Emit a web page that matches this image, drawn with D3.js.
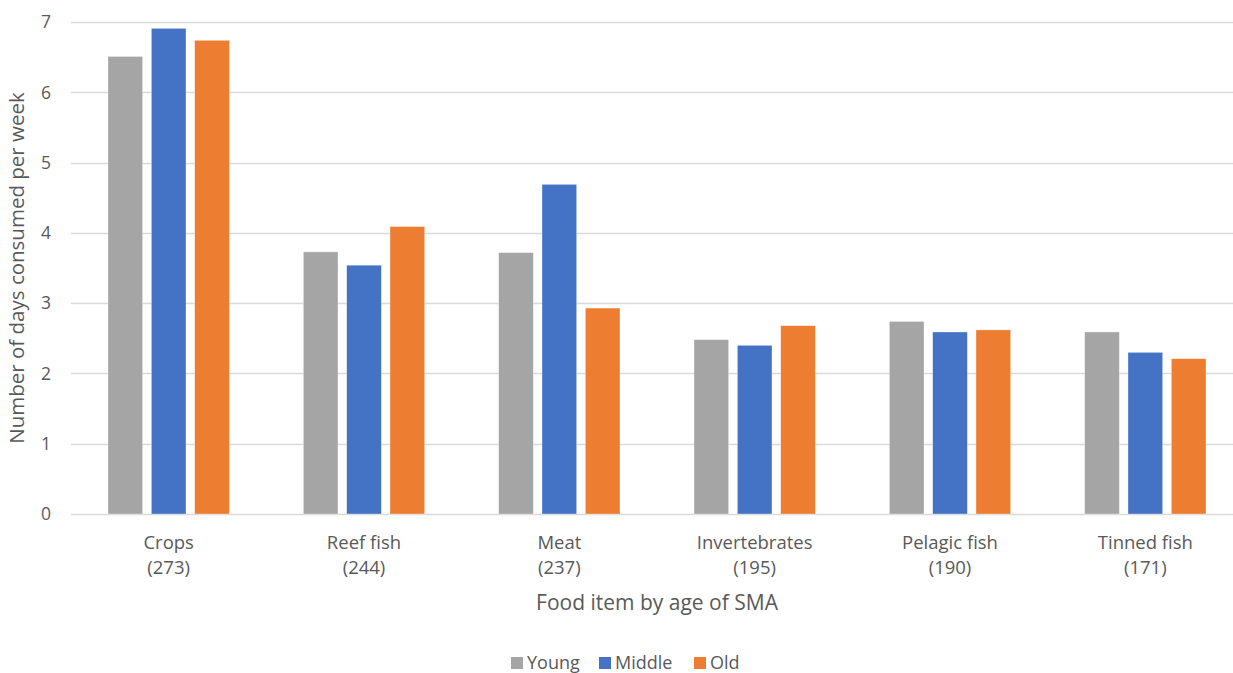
<!DOCTYPE html>
<html>
<head>
<meta charset="utf-8">
<script src="https://cdn.jsdelivr.net/npm/d3@7"></script>
<style>
  html, body { margin: 0; padding: 0; background: #fff; }
  svg text { font-family: "Open Sans", Lato, sans-serif; fill: #595959; }
</style>
</head>
<body>
<svg id="chart" width="1233" height="673"></svg>
<script>
// Food items with number of respondents
const categories = ["Crops", "Reef fish", "Meat", "Invertebrates", "Pelagic fish", "Tinned fish"];
const counts = [273, 244, 237, 195, 190, 171];
const seriesNames = ["Young", "Middle", "Old"];
const young  = [6.51, 3.73, 3.72, 2.48, 2.74, 2.59];
const middle = [6.91, 3.54, 4.69, 2.40, 2.59, 2.30];
const old    = [6.74, 4.09, 2.93, 2.68, 2.62, 2.21];
const yTicks = [0, 1, 2, 3, 4, 5, 6, 7];
const colors = ["#a5a5a5", "#4472c4", "#ed7d31"];

const seriesValues = [young, middle, old];
const rows = categories.map((c, i) => ({
  cat: c, n: counts[i],
  vals: seriesNames.map((s, j) => ({ key: s, value: seriesValues[j][i] }))
}));

const svg = d3.select("#chart");
const plotL = 71, plotR = 1243, plotT = 22, plotB = 514;

const x0 = d3.scaleBand().domain(categories).range([plotL, plotR]).paddingInner(0).paddingOuter(0);
const x1 = d3.scaleBand().domain(seriesNames).range([37, x0.bandwidth() - 37]).paddingInner(0.2).paddingOuter(0);
const y = d3.scaleLinear().domain([0, 7]).range([plotB, plotT]);

// gridlines
svg.append("g").selectAll("line").data(yTicks).join("line")
  .attr("x1", plotL).attr("x2", plotR)
  .attr("y1", d => Math.round(y(d)) + 0.5).attr("y2", d => Math.round(y(d)) + 0.5)
  .attr("stroke", "#d9d9d9").attr("stroke-width", 1.3);

// y tick labels
svg.append("g").selectAll("text").data(yTicks).join("text")
  .attr("x", 51).attr("y", d => y(d)).attr("dy", "0.36em")
  .attr("text-anchor", "end").attr("font-size", 17.5).text(d => d);

// bars
const groups = svg.append("g").selectAll("g").data(rows).join("g")
  .attr("transform", d => `translate(${x0(d.cat)},0)`);
groups.selectAll("rect").data(d => d.vals).join("rect")
  .attr("x", d => x1(d.key)).attr("width", x1.bandwidth())
  .attr("y", d => y(d.value)).attr("height", d => y(0) - y(d.value))
  .attr("fill", (d, i) => colors[i])
  .attr("stroke", "#fff").attr("stroke-opacity", 0.5).attr("stroke-width", 0.7);

// category labels
const lab = svg.append("g").selectAll("text").data(rows).join("text")
  .attr("text-anchor", "middle").attr("font-size", 18.5)
  .attr("transform", d => `translate(${x0(d.cat) + x0.bandwidth() / 2},0)`);
lab.append("tspan").attr("x", 0).attr("y", 549).text(d => d.cat);
lab.append("tspan").attr("x", 0).attr("y", 574).text(d => `(${d.n})`);

// axis titles
svg.append("text").attr("x", 657).attr("y", 610).attr("text-anchor", "middle")
  .attr("font-size", 21).text("Food item by age of SMA");
svg.append("text").attr("transform", `translate(24,${(plotT + plotB) / 2}) rotate(-90)`)
  .attr("text-anchor", "middle").attr("font-size", 20.5).text("Number of days consumed per week");

// legend
const legendX = [511, 599, 694];
const leg = svg.append("g").selectAll("g").data(seriesNames).join("g")
  .attr("transform", (d, i) => `translate(${legendX[i]},0)`);
leg.append("rect").attr("x", 0).attr("y", 657).attr("width", 12).attr("height", 12)
  .attr("fill", (d, i) => colors[i]);
leg.append("text").attr("x", 16).attr("y", 669).attr("font-size", 18).text(d => d);
</script>
</body>
</html>
